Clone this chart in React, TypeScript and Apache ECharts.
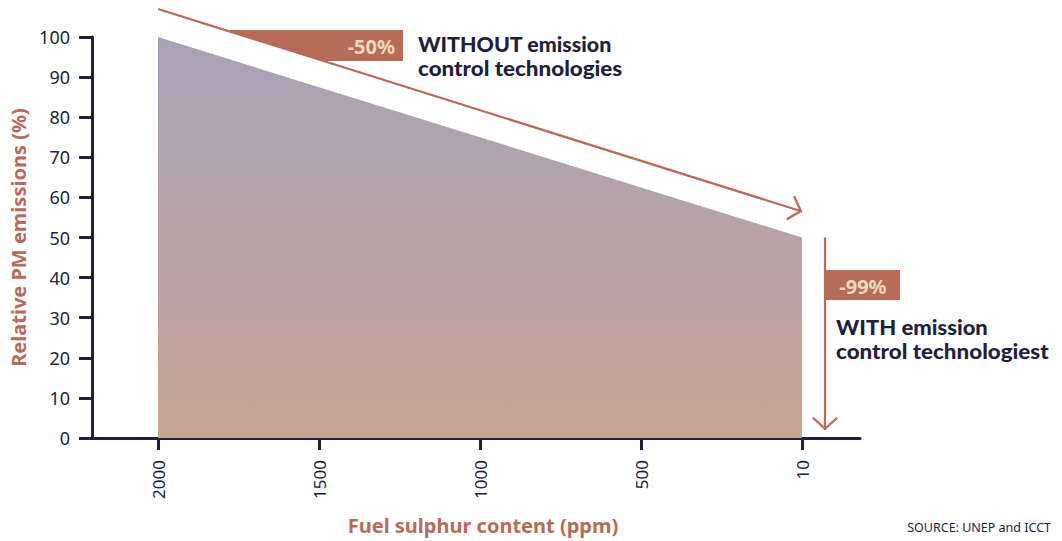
import React, { useEffect, useRef } from "react";
import * as echarts from "echarts";

const categories = ["2000", "1500", "1000", "500", "10"];
const emissions = [100, 87.5, 75, 62.5, 50];
const withoutArrow = [107, 56.5];
const withArrow = [50, 2];
const yTicks = [0, 10, 20, 30, 40, 50, 60, 70, 80, 90, 100];

const NAVY = "#221f3d";
const RUST = "#b76b59";
const BEIGE = "#ecd9bd";
const FONT = "'Noto Sans', 'Open Sans', sans-serif";
const NOTE_FONT = "Lato, 'Noto Sans', sans-serif";

const chevron =
  "path://M13,13 L26,25 L24.3,26.6 L13,16.2 L1.7,26.6 L0,25 Z M13,0 L13.01,0 Z";

const X_MIN = -0.41;
const X_MAX = 4.36;
// overlay grid reaches the top of the canvas, same scale as the main grid
const OVERLAY_Y_MAX = 438 / 4.01;

export default function App() {
  const ref = useRef<HTMLDivElement>(null);
  useEffect(() => {
    if (!ref.current) return;
    const chart = echarts.init(ref.current, null, { renderer: "svg" });
    const idx = categories.map((_, i) => i);
    const txt = (x: number, y: number, text: string, extra: any = {}, sx = 1) => ({
      type: "text",
      x,
      y,
      z: 10,
      scaleX: sx,
      style: {
        text,
        fill: NAVY,
        font: `900 20px ${NOTE_FONT}`,
        lineHeight: 22,
        align: "left",
        verticalAlign: "middle",
        ...extra,
      },
    });
    chart.setOption({
      animation: false,
      grid: [
        { left: 92, right: 202, top: 37, bottom: 103, containLabel: false, outerBoundsMode: "none" },
        { left: 92, right: 202, top: 0, bottom: 103, containLabel: false, outerBoundsMode: "none" },
      ],
      xAxis: [
        {
          type: "value",
          gridIndex: 0,
          min: X_MIN,
          max: X_MAX,
          splitLine: { show: false },
          axisLine: { show: true, onZero: false, lineStyle: { color: NAVY, width: 3 } },
          axisTick: {
            show: true,
            customValues: idx,
            length: 12,
            lineStyle: { color: NAVY, width: 3 },
          },
          axisLabel: {
            customValues: idx,
            rotate: 90,
            margin: 22,
            color: NAVY,
            fontSize: 17,
            fontFamily: FONT,
            formatter: (v: number) => categories[Math.round(v)] ?? "",
          },
          name: "Fuel sulphur content (ppm)",
          nameLocation: "middle",
          nameGap: 77,
          nameTextStyle: {
            color: RUST,
            fontSize: 20,
            fontWeight: 700,
            fontFamily: FONT,
            padding: [0, 0, 0, 14],
          },
        },
        {
          type: "value",
          gridIndex: 1,
          min: X_MIN,
          max: X_MAX,
          show: false,
        },
      ],
      yAxis: [
        {
          type: "value",
          gridIndex: 0,
          min: 0,
          max: 100,
          interval: 10,
          splitLine: { show: false },
          axisLine: { show: true, onZero: false, lineStyle: { color: NAVY, width: 3 } },
          axisTick: { show: true, length: 13, lineStyle: { color: NAVY, width: 3 } },
          axisLabel: {
            color: NAVY,
            fontSize: 18,
            fontFamily: FONT,
            margin: 22,
            customValues: yTicks,
          },
          name: "Relative PM emissions (%)",
          nameLocation: "middle",
          nameGap: 64,
          nameTextStyle: { color: RUST, fontSize: 20, fontWeight: 700, fontFamily: FONT },
        },
        {
          type: "value",
          gridIndex: 1,
          min: 0,
          max: OVERLAY_Y_MAX,
          show: false,
        },
      ],
      series: [
        {
          type: "line",
          xAxisIndex: 0,
          yAxisIndex: 0,
          data: emissions.map((v, i) => [i, v]),
          symbol: "none",
          lineStyle: { width: 0 },
          areaStyle: {
            opacity: 1,
            color: new echarts.graphic.LinearGradient(0, 0, 0, 1, [
              { offset: 0, color: "#a9a1b9" },
              { offset: 1, color: "#c7a595" },
            ]),
          },
          silent: true,
          z: 2,
        },
        {
          type: "line",
          xAxisIndex: 1,
          yAxisIndex: 1,
          data: [],
          silent: true,
          clip: false,
          z: 3,
          markLine: {
            silent: true,
            symbol: ["none", chevron],
            symbolSize: [26, 26],
            label: { show: false },
            lineStyle: { color: RUST, width: 2.2, type: "solid" },
            data: [
              [{ coord: [0, withoutArrow[0]] }, { coord: [4, withoutArrow[1]] }],
              [{ coord: [4.143, withArrow[0]] }, { coord: [4.143, withArrow[1]] }],
            ],
          },
        },
      ],
      graphic: [
        {
          type: "polygon",
          z: 1,
          shape: { points: [[225, 30], [403, 30], [403, 61], [323, 61]] },
          style: { fill: RUST },
        },
        txt(395, 46, "-50%", { fill: BEIGE, align: "right", font: `700 20px ${FONT}` }),
        txt(418, 44, "WITHOUT emission", {}, 1.07),
        txt(418, 68, "control technologies", {}, 1.12),
        {
          type: "rect",
          z: 5,
          shape: { x: 825, y: 270, width: 75, height: 30 },
          style: { fill: RUST },
        },
        txt(863, 286, "-99%", { fill: BEIGE, align: "center", font: `700 20px ${FONT}` }),
        txt(836, 327, "WITH emission", {}, 1.1),
        txt(836, 351, "control technologiest", {}, 1.12),
        txt(1051, 527, "SOURCE: UNEP and ICCT", {
          font: `12.5px ${FONT}`,
          lineHeight: 14,
          align: "right",
        }),
      ],
    });
    return () => chart.dispose();
  }, []);
  return <div ref={ref} style={{ width: 1062, height: 541, position: "absolute", left: 0, top: 0 }} />;
}
